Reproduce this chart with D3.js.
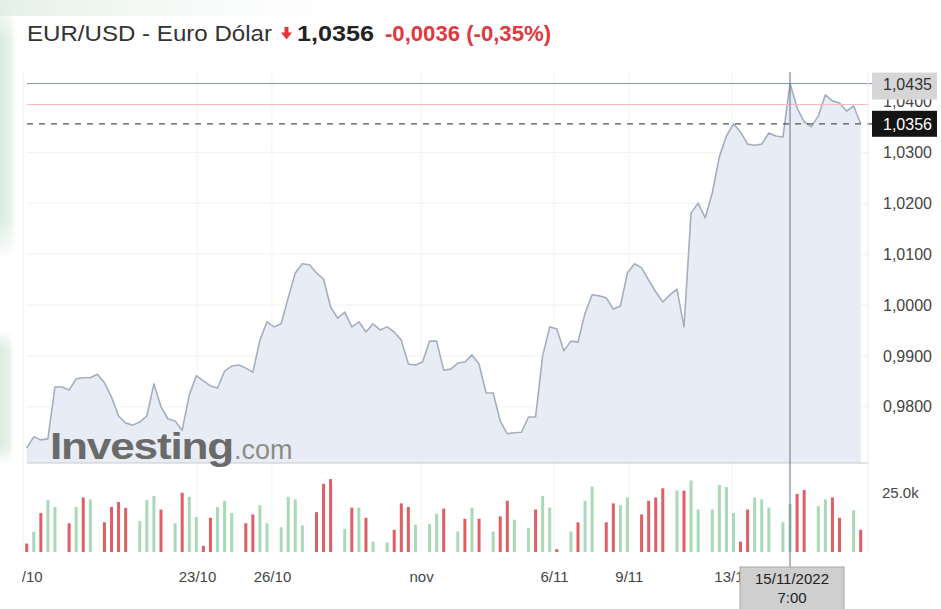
<!DOCTYPE html>
<html><head><meta charset="utf-8">
<script src="https://cdn.jsdelivr.net/npm/d3@7"></script>
<style>
body{margin:0;background:#fff;}
svg{display:block;font-family:"Liberation Sans",Arial,Helvetica,sans-serif;}
</style>
</head><body>
<svg id="c" width="941" height="609"></svg>
<script>
// ---------- DATA ----------
const priceValues = [
 0.9719,0.9741,0.9735,0.9737,0.9839,0.9839,0.9833,0.9855,0.9857,0.9857,
 0.9864,0.9847,0.9819,0.9782,0.9768,0.9764,0.9770,0.9782,0.9845,0.9800,
 0.9776,0.9772,0.9754,0.9823,0.9861,0.9851,0.9841,0.9837,0.9870,0.9880,
 0.9882,0.9876,0.9868,0.9931,0.9967,0.9957,0.9963,1.0014,1.0063,1.0081,
 1.0079,1.0063,1.0051,0.9996,0.9974,0.9986,0.9957,0.9967,0.9947,0.9963,
 0.9951,0.9957,0.9947,0.9931,0.9884,0.9882,0.9888,0.9929,0.9929,0.9872,
 0.9874,0.9886,0.9888,0.9902,0.9884,0.9827,0.9827,0.9772,0.9747,0.9749,
 0.9750,0.9780,0.9780,0.9900,0.9957,0.9953,0.9910,0.9929,0.9927,0.9984,
 1.0020,1.0018,1.0014,0.9992,0.9998,1.0063,1.0081,1.0073,1.0049,1.0026,
 1.0006,1.0020,1.0031,0.9957,1.0181,1.0200,1.0171,1.0220,1.0291,1.0332,
 1.0356,1.0340,1.0316,1.0314,1.0316,1.0338,1.0332,1.0330,1.0435,1.0387,
 1.0360,1.0350,1.0371,1.0413,1.0401,1.0397,1.0381,1.0391,1.0356
];
const volumeValues = [
 3.6,8.6,16.5,22.0,19.1,0,12.2,19.1,23.1,22.3,
 0,12.6,19.1,21.2,18.7,0,13.1,22.0,23.7,18.0,
 0,12.2,25.1,23.4,14.8,2.6,14.5,19.1,21.7,16.5,
 0,12.2,15.9,19.8,12.2,0,10.5,23.4,22.3,11.2,
 0,16.9,28.9,30.9,0,9.8,18.8,18.8,14.5,4.4,
 0,4.0,9.4,20.6,19.1,11.6,0,11.9,16.2,18.4,
 0,8.7,14.1,18.8,14.1,0,8.7,15.1,21.7,13.7,
 0,10.2,18.0,23.7,18.8,1.2,0,8.7,12.6,21.7,
 27.7,0,12.6,20.6,19.8,23.1,0,15.9,21.7,23.1,
 27.0,0,26.0,26.0,30.3,18.0,0,18.0,28.4,27.5,
 16.5,4.4,18.0,23.1,22.3,18.8,0,12.6,20.3,24.6,
 26.3,0,19.4,22.3,23.1,14.5,0,17.7,9.4
];
// d = down (red), u = up (green), - = no volume
const volumeSide = ("duduu-dudu" + "-dddd-uuud" + "-uduudduuu" + "-dduu-uuuu" +
  "-ddd-ududu" + "-udddu-uud" + "-udud-uddu" + "-uduud-udu" + "u-dduu-ddd" +
  "d-uduu-uuu" + "udduuu-uud" + "d-uudd-ud").split("");
const priceTicks = [0.98, 0.99, 1.00, 1.01, 1.02, 1.03, 1.04];
const volumeTicks = [25];
const dateTickSlots = [-0.48, 24.1, 34.7, 55.8, 74.6, 85.2, 99.8];
const dateTickLabels = ["20/10", "23/10", "26/10", "nov", "6/11", "9/11", "13/11"];
const titleName = "EUR/USD - Euro Dólar";
const lastPrice = 1.0356;
const changeText = "-0,0036 (-0,35%)";
const prevClose = 1.0394;
const crossSlot = 108;
const crossPrice = 1.0435;
const crossDate = "15/11/2022";
const crossTime = "7:00";

// ---------- SETUP ----------
const svg = d3.select("#c");
const W = 941, H = 609;
const plotL = 27, plotR = 868, priceTop = 72, priceBottom = 463, volBottom = 552;
const fmt = d => d3.format(".4f")(d).replace(".", ",");

const x = d3.scaleLinear().domain([0, priceValues.length - 1]).range([26.7, 860.7]);
const y = d3.scaleLinear().domain([0.98, 1.03]).range([406.8, 152.3]);
const v = d3.scaleLinear().domain([0, 25]).range([volBottom, 493]);

const defs = svg.append("defs");
const gL = defs.append("linearGradient").attr("id", "gl").attr("x1", 0).attr("x2", 1).attr("y1", 0).attr("y2", 0);
gL.append("stop").attr("offset", 0).attr("stop-color", "#dcebe0");
gL.append("stop").attr("offset", 0.6).attr("stop-color", "#e8f2eb");
gL.append("stop").attr("offset", 1).attr("stop-color", "#ffffff").attr("stop-opacity", 0);
const gV = defs.append("linearGradient").attr("id", "gv").attr("x1", 0).attr("x2", 0).attr("y1", 0).attr("y2", 1);
gV.append("stop").attr("offset", 0).attr("stop-color", "#fff").attr("stop-opacity", 0);
gV.append("stop").attr("offset", 0.15).attr("stop-color", "#fff").attr("stop-opacity", 1);
gV.append("stop").attr("offset", 0.85).attr("stop-color", "#fff").attr("stop-opacity", 1);
gV.append("stop").attr("offset", 1).attr("stop-color", "#fff").attr("stop-opacity", 0);
defs.append("mask").attr("id", "mv").attr("maskContentUnits", "objectBoundingBox")
  .append("rect").attr("width", 1).attr("height", 1).attr("fill", "url(#gv)");
const gT = defs.append("linearGradient").attr("id", "gt").attr("x1", 0).attr("x2", 1).attr("y1", 0).attr("y2", 0);
gT.append("stop").attr("offset", 0).attr("stop-color", "#e4f0e7");
gT.append("stop").attr("offset", 1).attr("stop-color", "#ffffff").attr("stop-opacity", 0);
defs.append("clipPath").attr("id", "xclip").append("rect").attr("x", 22).attr("y", -20).attr("width", 900).attr("height", 60);

svg.append("rect").attr("width", W).attr("height", H).attr("fill", "#fff");
svg.append("rect").attr("x", 0).attr("y", 0).attr("width", 420).attr("height", 16).attr("fill", "url(#gt)");
svg.append("rect").attr("x", 0).attr("y", 0).attr("width", 18).attr("height", 260).attr("fill", "url(#gl)").attr("mask", "url(#mv)");
svg.append("rect").attr("x", 0).attr("y", 330).attr("width", 16).attr("height", 135).attr("fill", "url(#gl)").attr("mask", "url(#mv)");

// ---------- GRID ----------
const grid = svg.append("g");
grid.selectAll("line.h").data(priceTicks.filter(t => t <= 1.03)).join("line")
  .attr("x1", plotL).attr("x2", plotR).attr("y1", d => y(d)).attr("y2", d => y(d))
  .attr("stroke", "#f1f1f1").attr("stroke-width", 1);
grid.selectAll("line.v").data(dateTickSlots).join("line")
  .attr("x1", d => x(d)).attr("x2", d => x(d)).attr("y1", priceTop).attr("y2", volBottom)
  .attr("stroke", "#f4f4f4").attr("stroke-width", 1);

// ---------- PRICE AREA / LINE ----------
const area = d3.area().x((d, i) => x(i)).y0(priceBottom).y1(d => y(d));
const line = d3.line().x((d, i) => x(i)).y(d => y(d));
svg.append("path").datum(priceValues).attr("d", area).attr("fill", "#e8edf5");
svg.append("path").datum(priceValues).attr("d", line).attr("fill", "none")
  .attr("stroke", "#a3afc1").attr("stroke-width", 1.6).attr("stroke-linejoin", "round");

// reference lines
svg.append("line").attr("x1", plotL).attr("x2", plotR).attr("y1", y(prevClose)).attr("y2", y(prevClose))
  .attr("stroke", "#f3b9b9").attr("stroke-width", 1);
svg.append("line").attr("x1", plotL).attr("x2", 873).attr("y1", y(crossPrice)).attr("y2", y(crossPrice))
  .attr("stroke", "#7f93ad").attr("stroke-width", 1);
svg.append("line").attr("x1", plotL).attr("x2", 872).attr("y1", y(lastPrice)).attr("y2", y(lastPrice))
  .attr("stroke", "#555").attr("stroke-width", 1.3).attr("stroke-dasharray", "6,6");

// panel borders
svg.append("line").attr("x1", plotL).attr("x2", plotR).attr("y1", priceBottom).attr("y2", priceBottom)
  .attr("stroke", "#c9c9c9");
svg.append("line").attr("x1", plotR).attr("x2", plotR).attr("y1", priceTop).attr("y2", volBottom)
  .attr("stroke", "#ececec");

// ---------- VOLUME ----------
svg.append("g").selectAll("rect").data(volumeValues).join("rect")
  .attr("x", (d, i) => x(i) - 1.5).attr("width", 3)
  .attr("y", d => v(d)).attr("height", d => volBottom - v(d))
  .attr("fill", (d, i) => volumeSide[i] === "d" ? "#de5f66" : "#a9d9b7")
  .attr("display", (d, i) => volumeSide[i] === "-" ? "none" : null);

// ---------- WATERMARK ----------
svg.append("text").attr("x", 50).attr("y", 459).attr("font-size", 37).attr("font-weight", "bold")
  .attr("fill", "#6a6a6a").attr("textLength", 183).attr("lengthAdjust", "spacingAndGlyphs")
  .attr("letter-spacing", -1).text("Investing");
svg.append("text").attr("x", 234).attr("y", 459).attr("font-size", 27)
  .attr("fill", "#8c8c8c").text(".com");

// ---------- AXES ----------
const yAxis = svg.append("g").attr("transform", "translate(883,0)")
  .call(d3.axisRight(y).tickValues(priceTicks).tickSize(0).tickPadding(0).tickFormat(fmt));
yAxis.select(".domain").remove();
yAxis.selectAll("text").attr("font-size", 16).attr("fill", "#444").attr("font-family", "Liberation Sans, Arial, sans-serif");

const vAxis = svg.append("g").attr("transform", "translate(882,0)")
  .call(d3.axisRight(v).tickValues(volumeTicks).tickSize(0).tickPadding(0).tickFormat(d => d.toFixed(1) + "k"));
vAxis.select(".domain").remove();
vAxis.selectAll("text").attr("font-size", 15).attr("fill", "#444").attr("font-family", "Liberation Sans, Arial, sans-serif");

// value boxes
svg.append("rect").attr("x", 872).attr("y", y(crossPrice) - 11).attr("width", 65).attr("height", 27).attr("fill", "#d6d6d6");
svg.append("text").attr("x", 883).attr("y", y(crossPrice) + 6).attr("font-size", 16).attr("fill", "#333").text(fmt(crossPrice));
svg.append("rect").attr("x", 872).attr("y", y(lastPrice) - 13).attr("width", 65).attr("height", 26).attr("fill", "#141414");
svg.append("text").attr("x", 883).attr("y", y(lastPrice) + 6).attr("font-size", 16).attr("fill", "#fff").text(fmt(lastPrice));

// x axis
const xAxis = svg.append("g").attr("transform", "translate(0,571)").attr("clip-path", "url(#xclip)")
  .call(d3.axisBottom(x).tickValues(dateTickSlots).tickSize(0).tickPadding(0).tickFormat((d, i) => dateTickLabels[i]));
xAxis.select(".domain").remove();
xAxis.selectAll("text").attr("font-size", 15).attr("fill", "#444").attr("font-family", "Liberation Sans, Arial, sans-serif");

// crosshair
svg.append("line").attr("x1", x(crossSlot)).attr("x2", x(crossSlot)).attr("y1", priceTop).attr("y2", 567)
  .attr("stroke", "#5d7393").attr("stroke-width", 1);
const tipX = x(crossSlot) - 50;
svg.append("rect").attr("x", tipX).attr("y", 567).attr("width", 104).attr("height", 46)
  .attr("fill", "#cfcfcf").attr("stroke", "#a8a8a8");
svg.append("text").attr("x", tipX + 52).attr("y", 584).attr("text-anchor", "middle").attr("font-size", 15)
  .attr("fill", "#222").text(crossDate);
svg.append("text").attr("x", tipX + 52).attr("y", 603).attr("text-anchor", "middle").attr("font-size", 15)
  .attr("fill", "#222").text(crossTime);

// ---------- TITLE ----------
const tg = svg.append("g");
tg.append("text").attr("x", 27).attr("y", 41).attr("font-size", 22).attr("fill", "#333")
  .attr("textLength", 245).attr("lengthAdjust", "spacingAndGlyphs").text(titleName);
tg.append("path").attr("d", "M284.5,27 h4 v5.5 h3.5 l-5.5,7 l-5.5,-7 h3.5 z").attr("fill", "#e3343c");
tg.append("text").attr("x", 297).attr("y", 41).attr("font-size", 22).attr("font-weight", "bold").attr("fill", "#222")
  .attr("textLength", 77).attr("lengthAdjust", "spacingAndGlyphs").text(fmt(lastPrice));
tg.append("text").attr("x", 385).attr("y", 41).attr("font-size", 22).attr("font-weight", "bold").attr("fill", "#e0383f")
  .attr("textLength", 166).attr("lengthAdjust", "spacingAndGlyphs").text(changeText);
</script>
</body></html>
